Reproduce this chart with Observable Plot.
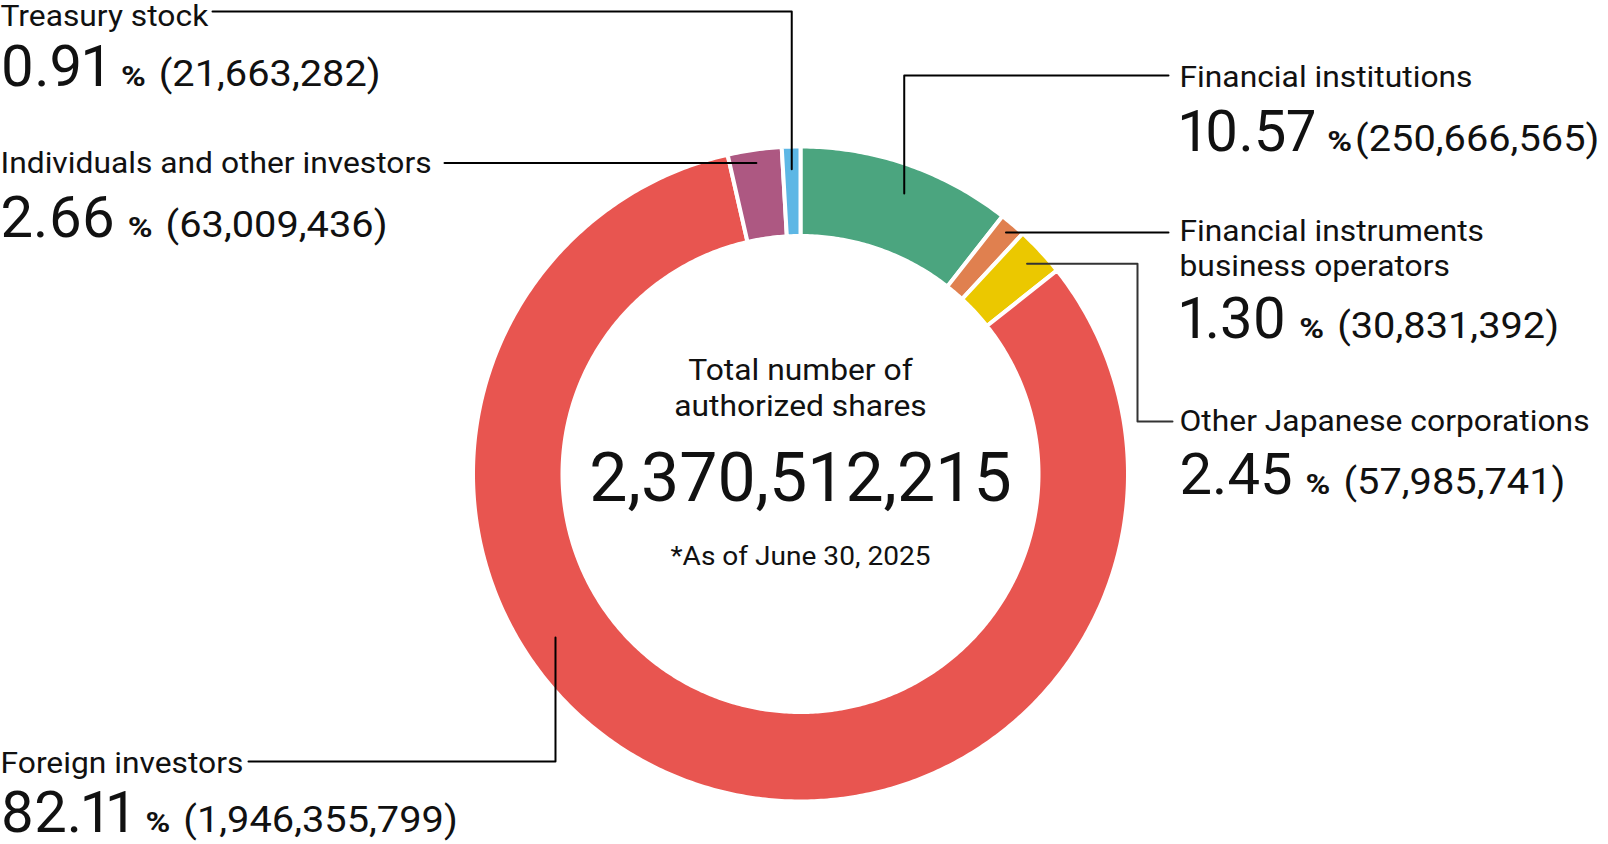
<!DOCTYPE html>
<html><head><meta charset="utf-8">
<script src="https://cdn.jsdelivr.net/npm/d3@7"></script>
<script src="https://cdn.jsdelivr.net/npm/@observablehq/plot@0.6"></script>
<style>
html,body{margin:0;padding:0;background:#fff;}
#chart svg{display:block;}
</style></head><body><div id="chart"></div><script>
// ---- data ----
const categories = ["Financial institutions", "Financial instruments\nbusiness operators", "Other Japanese corporations", "Foreign investors", "Individuals and other investors", "Treasury stock"];
const percents = [10.57, 1.30, 2.45, 82.11, 2.66, 0.91];
const shares = [250666565, 30831392, 57985741, 1946355799, 63009436, 21663282];
const sliceColors = ["#4BA57F", "#E0804F", "#EBC800", "#E85550", "#AD5882", "#5DB7E5"];
const totalShares = 2370512215;
const centerTitle = "Total number of\nauthorized shares";
const footnote = "*As of June 30, 2025";

// ---- layout / styles ----
const W = 1608, H = 844;
const cx = 800, cy = 473.5, R = 327.5, r0 = 238;
const FONT = "Roboto, sans-serif";
// sx: horizontal stretch of the glyphs (the reference face is wider than Roboto)
const ST = {
  name:   {size: 30, weight: 400, sx: 1.06, variant: "normal"},
  value:  {size: 58, weight: 400, sx: 1.0, variant: "proportional-nums"},
  pct:    {size: 28, weight: 700, sx: 1.2, variant: "normal"},
  count:  {size: 37, weight: 400, sx: 1.075, variant: "normal"},
  title:  {size: 30, weight: 400, sx: 1.06, variant: "normal"},
  total:  {size: 68, weight: 400, sx: 1.0, variant: "normal"},
  note:   {size: 26, weight: 400, sx: 1.08, variant: "normal"}
};
const labelLayout = [
  {x: 1179, nameY: 86, valueY: 150, gap1: 11, gap2: 3},
  {x: 1179, nameY: 275, valueY: 337},
  {x: 1179, nameY: 430, valueY: 493},
  {x: 0, nameY: 772, valueY: 831},
  {x: 0, nameY: 172, valueY: 236},
  {x: 0, nameY: 25, valueY: 85}
];
const GAP1 = 13, GAP2 = 13;
const leaderLayout = [
  {angle: 20.3, r: 299, route: "hv", start: [1168, 75]},
  {r: 317, route: "h", start: [1168, null]},
  {r: 309, route: "hvh", start: [1172, 421], mid: 1137, gray: true},
  {angle: 236.3, r: 294.5, route: "hv", start: [248, 761]},
  {r: 314, route: "h", start: [444, null]},
  {r: 305, route: "hv", start: [212, 11]}
];

// ---- geometry from data ----
const total = d3.sum(shares);
let acc = 0;
const slices = categories.map((c, i) => {
  const a0 = acc / total * 2 * Math.PI; acc += shares[i];
  const a1 = acc / total * 2 * Math.PI;
  return {cat: c, a0, a1};
});
const polar = (a, rr) => [cx + rr * Math.sin(a), cy - rr * Math.cos(a)];
const slicePts = [];
for (const s of slices) {
  const n = Math.max(6, Math.ceil((s.a1 - s.a0) / 0.01));
  for (let k = 0; k <= n; k++) { const [x, y] = polar(s.a0 + (s.a1 - s.a0) * k / n, R); slicePts.push({cat: s.cat, x, y}); }
  for (let k = n; k >= 0; k--) { const [x, y] = polar(s.a0 + (s.a1 - s.a0) * k / n, r0); slicePts.push({cat: s.cat, x, y}); }
}
const leaders = leaderLayout.map((L, i) => {
  const s = slices[i];
  const a = L.angle != null ? L.angle * Math.PI / 180 : (s.a0 + s.a1) / 2;
  const [ex, ey] = polar(a, L.r);
  let pts;
  if (L.route === "hv") pts = [[L.start[0], L.start[1]], [ex, L.start[1]], [ex, ey]];
  else if (L.route === "h") pts = [[L.start[0], ey], [ex, ey]];
  else pts = [[L.start[0], L.start[1]], [L.mid, L.start[1]], [L.mid, ey], [ex, ey]];
  return {gray: !!L.gray, pts: pts.map(([x, y]) => ({x, y}))};
});

// text measurement with an SVG text element styled like the marks
function measure(str, st) {
  const svg = d3.select("body").append("svg").attr("width", 10).attr("height", 10)
    .style("position", "absolute").style("visibility", "hidden");
  const t = svg.append("text").attr("font-family", FONT).attr("font-size", st.size)
    .attr("font-weight", st.weight).attr("font-variant", st.variant).text(str);
  const w = t.node().getComputedTextLength();
  svg.remove();
  return w * st.sx;
}
const fmtPct = d3.format(".2f"), fmtInt = d3.format(",");
const rows = categories.map((c, i) => {
  const L = labelLayout[i];
  const v = fmtPct(percents[i]);
  const cnt = `(${fmtInt(shares[i])})`;
  const pctX = L.x + measure(v, ST.value) + (L.gap1 ?? GAP1);
  const cntX = pctX + measure("%", ST.pct) + (L.gap2 ?? GAP2);
  return {name: c, x: L.x, nameY: L.nameY, valueY: L.valueY, v, pctX, cnt, cntX};
});

const txt = (data, key, opts) => Plot.text(data, {
  fontSize: ST[key].size, fontWeight: ST[key].weight, fontVariant: ST[key].variant,
  fontFamily: FONT, lineAnchor: "bottom", fill: "#111", ariaDescription: key, ...opts
});

const chart = Plot.plot({
  width: W, height: H,
  margin: 0,
  x: {type: "linear", domain: [0, W], range: [0, W], axis: null},
  y: {type: "linear", domain: [0, H], range: [0, H], axis: null},
  color: {domain: categories, range: sliceColors},
  style: {background: "white", fontFamily: FONT},
  marks: [
    Plot.line(slicePts, {x: "x", y: "y", z: "cat", fill: "cat", stroke: "white", strokeWidth: 4, curve: "linear-closed"}),
    ...leaders.map(l => Plot.line(l.pts, {x: "x", y: "y", stroke: l.gray ? "#333" : "#000", strokeWidth: 2})),
    txt(rows, "name", {x: "x", y: "nameY", text: "name", textAnchor: "start", lineHeight: 1.14}),
    txt(rows, "value", {x: "x", y: "valueY", text: "v", textAnchor: "start"}),
    txt(rows, "pct", {x: "pctX", y: "valueY", text: () => "%", textAnchor: "start"}),
    txt(rows, "count", {x: "cntX", y: "valueY", text: "cnt", textAnchor: "start"}),
    txt([centerTitle], "title", {x: () => cx, y: () => 415, text: d => d, textAnchor: "middle", lineHeight: 1.17}),
    txt([fmtInt(totalShares)], "total", {x: () => cx, y: () => 500, text: d => d, textAnchor: "middle"}),
    txt([footnote], "note", {x: () => cx, y: () => 564, text: d => d, textAnchor: "middle"})
  ]
});
// horizontal glyph stretch per text kind (Plot's text mark has no such option):
// append a scale to each text element's own translate, so anchors stay put
for (const key of Object.keys(ST)) {
  if (ST[key].sx === 1) continue;
  d3.select(chart).selectAll(`g[aria-description="${key}"] text`).each(function () {
    const tr = this.getAttribute("transform") || "";
    this.setAttribute("transform", `${tr} scale(${ST[key].sx},1)`);
  });
}
document.getElementById("chart").appendChild(chart);
</script></body></html>
